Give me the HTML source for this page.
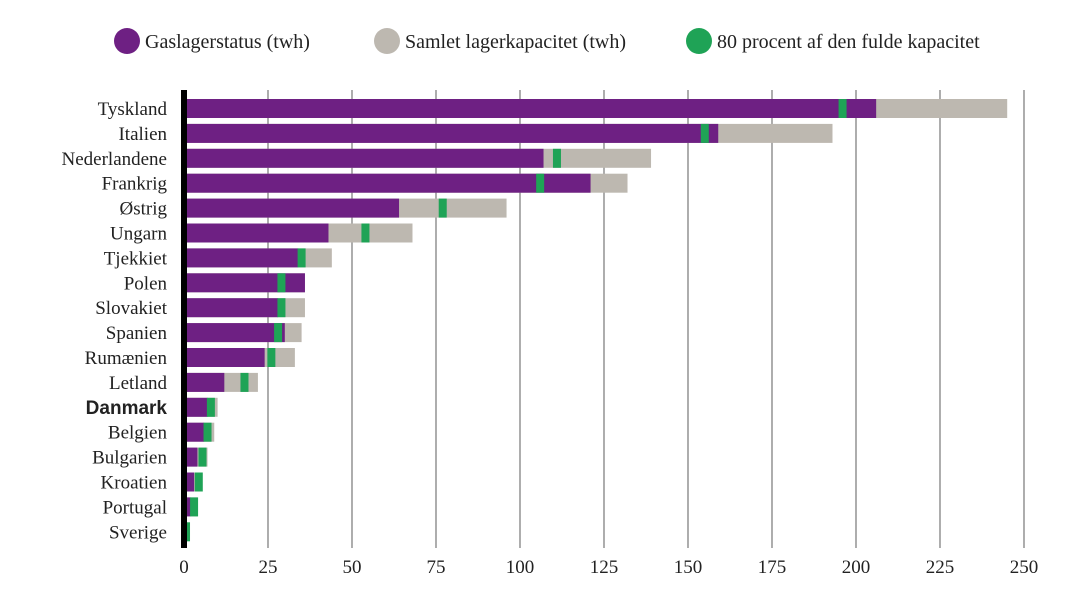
<!DOCTYPE html>
<html><head><meta charset="utf-8"><style>
body{margin:0;background:#fff;width:1070px;height:600px;overflow:hidden}
svg text{font-family:"Liberation Serif",serif;fill:#222}
</style></head><body>
<svg id="chart" width="1070" height="600">
<g id="legend">
 <g><circle cx="127" cy="41" r="13" fill="#6e2083"/><text x="145" y="48" font-size="20">Gaslagerstatus (twh)</text></g>
 <g><circle cx="387" cy="41" r="13" fill="#bdb8b0"/><text x="405" y="48" font-size="20">Samlet lagerkapacitet (twh)</text></g>
 <g><circle cx="699" cy="41" r="13" fill="#1fa356"/><text x="717" y="48" font-size="20">80 procent af den fulde kapacitet</text></g>
</g>
<g id="grid"></g><g id="bars"></g><g id="labels"></g><g id="ticks"></g>
</svg>
<script>
const countries=["Tyskland","Italien","Nederlandene","Frankrig","Østrig","Ungarn","Tjekkiet","Polen","Slovakiet","Spanien","Rumænien","Letland","Danmark","Belgien","Bulgarien","Kroatien","Portugal","Sverige"];
const status=[206,159,107,121,64,43,34,36,28,30,24,12,7,6,4,3,2,0];
const capacity=[245,193,139,132,96,68,44,36,36,35,33,22,10,9,7,5.5,4,1];
const target80=[196,155,111,106,77,54,35,29,29,28,26,18,8,7,5.5,4.4,3,0.6];
const tickValues=[0,25,50,75,100,125,150,175,200,225,250];
const tickLabels=["0","25","50","75","100","125","150","175","200","225","250"];
const NS="http://www.w3.org/2000/svg";
const x=v=>184+v*3.36;
const yTop=i=>99+i*24.9;
const BH=19;
function mk(tag,attrs,parent){const e=document.createElementNS(NS,tag);for(const k in attrs)e.setAttribute(k,attrs[k]);parent.appendChild(e);return e;}
const grid=document.getElementById('grid'),bars=document.getElementById('bars'),labels=document.getElementById('labels'),ticks=document.getElementById('ticks');
tickValues.forEach((t,i)=>{
 if(t>0){const l=mk('line',{x1:x(t),x2:x(t),y1:90,y2:548,stroke:'#777','stroke-width':1.2},grid);
 
 }
 const tx=mk('text',{x:x(t),y:573,'font-size':19,'text-anchor':'middle'},ticks);
 tx.textContent=tickLabels[i];
 
 
});
countries.forEach((c,i)=>{
 const y=yTop(i);
 const g=mk('rect',{x:x(0),y:y,width:x(capacity[i])-x(0),height:BH,fill:'#bdb8b0'},bars);
 
 
 const p=mk('rect',{x:x(0),y:y,width:Math.max(0,x(status[i])-x(0)),height:BH,fill:'#6e2083'},bars);
 
 
 const m=mk('rect',{x:x(target80[i])-4,y:y,width:8,height:BH,fill:'#1fa356'},bars);
 
 
 const t=mk('text',{x:167,y:y+16,'font-size':19,'text-anchor':'end'},labels);
 if(c==="Danmark"){t.setAttribute('font-weight','bold');t.setAttribute('style','font-family:"Liberation Sans",sans-serif');}
 t.textContent=c;
 
 
});
const ax=mk('rect',{x:181,y:90,width:6,height:458,fill:'#000'},bars);


</script>
</body></html>
